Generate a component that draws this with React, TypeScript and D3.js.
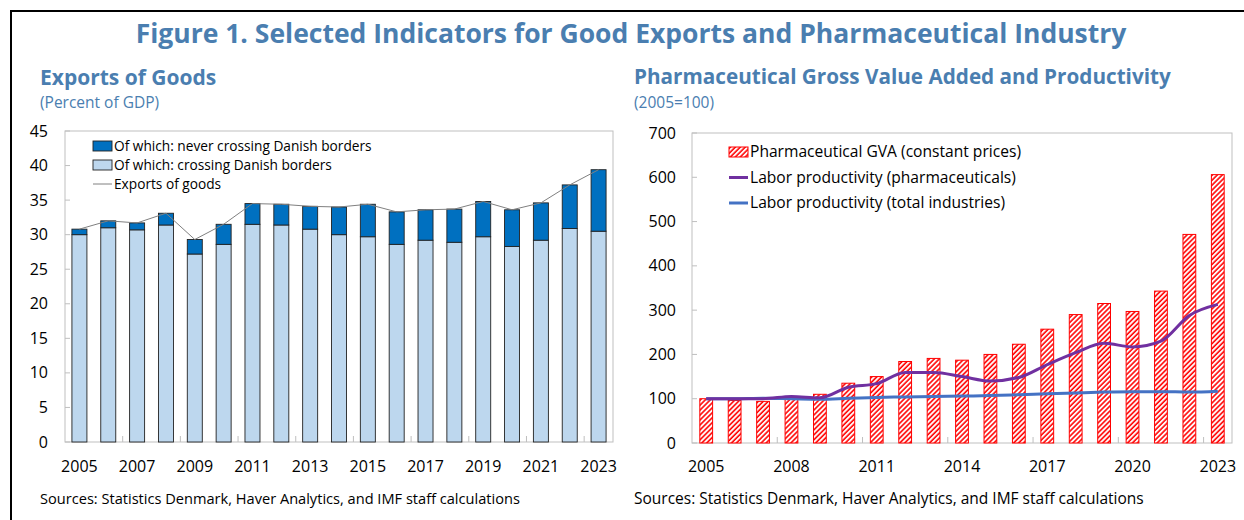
import React, { useEffect, useRef } from 'react';
import * as d3 from 'd3';

// Exports of goods (percent of GDP)
const years = d3.range(2005, 2024).map(String);
const crossing = [30.0, 31.0, 30.7, 31.4, 27.2, 28.6, 31.5, 31.4, 30.8, 30.0, 29.7, 28.6, 29.2, 28.9, 29.7, 28.3, 29.2, 30.9, 30.5];
const neverCrossing = [0.8, 1.0, 1.0, 1.7, 2.1, 2.9, 3.0, 3.0, 3.3, 4.0, 4.7, 4.7, 4.4, 4.8, 5.1, 5.3, 5.4, 6.3, 8.9];
const leftYTicks = [0, 5, 10, 15, 20, 25, 30, 35, 40, 45];
const leftXLabels = ['2005', '2007', '2009', '2011', '2013', '2015', '2017', '2019', '2021', '2023'];

// Pharmaceutical GVA and productivity (2005=100)
const pharmaGVA = [100, 96, 94, 100, 110, 135, 150, 184, 191, 187, 200, 223, 257, 290, 315, 297, 343, 471, 606];
const pharmaProd = [100, 100, 100, 105, 102, 126, 134, 159, 159, 150, 140, 148, 177, 204, 225, 217, 230, 288, 313];
const totalProd = [100, 100, 101, 100, 99, 101, 103, 104, 105, 106, 107, 109, 111, 113, 115, 116, 116, 115, 117];
const rightYTicks = [0, 100, 200, 300, 400, 500, 600, 700];
const rightXLabels = ['2005', '2008', '2011', '2014', '2017', '2020', '2023'];

const FONT = "'Open Sans', 'Noto Sans', sans-serif";
const BLUE_TITLE = '#4a7eb0';

const Chart = () => {
  const svgRef = useRef<SVGSVGElement>(null);

  useEffect(() => {
    const svg = d3.select(svgRef.current);
    svg.selectAll('*').remove();
    svg.attr('font-family', FONT);

    const defs = svg.append('defs');
    const pat = defs.append('pattern')
      .attr('id', 'hatch')
      .attr('patternUnits', 'userSpaceOnUse')
      .attr('width', 3.5)
      .attr('height', 3.5)
      .attr('patternTransform', 'rotate(45)');
    pat.append('rect').attr('width', 3.5).attr('height', 3.5).attr('fill', '#fff');
    pat.append('line').attr('x1', 1).attr('x2', 1).attr('y1', 0).attr('y2', 3.5)
      .attr('stroke', '#ff0000').attr('stroke-width', 1.6);

    // outer frame (left and top edges)
    svg.append('line').attr('x1', 11).attr('x2', 11).attr('y1', 10).attr('y2', 520).attr('stroke', '#000').attr('stroke-width', 2);
    svg.append('line').attr('x1', 10).attr('x2', 1244).attr('y1', 11).attr('y2', 11).attr('stroke', '#000').attr('stroke-width', 2);

    svg.append('text')
      .attr('x', 631).attr('y', 43)
      .attr('text-anchor', 'middle')
      .attr('font-size', 26.5).attr('font-weight', 700)
      .attr('fill', BLUE_TITLE)
      .text('Figure 1. Selected Indicators for Good Exports and Pharmaceutical Industry');

    // ---------- left panel ----------
    svg.append('text').attr('x', 40).attr('y', 85).attr('font-size', 21).attr('font-weight', 700)
      .attr('fill', BLUE_TITLE).text('Exports of Goods');
    svg.append('text').attr('x', 40).attr('y', 108).attr('font-size', 15.5)
      .attr('fill', BLUE_TITLE).text('(Percent of GDP)');

    const L = { left: 65, right: 613, top: 131, bottom: 442 };
    const yL = d3.scaleLinear().domain([0, 45]).range([L.bottom, L.top]);
    const stepL = (L.right - L.left) / years.length;
    const bandL = (i: number) => L.left + (i + 0.5) * stepL;
    const bwL = stepL * 0.52;

    const gL = svg.append('g');
    gL.append('rect').attr('x', L.left).attr('y', L.top).attr('width', L.right - L.left).attr('height', L.bottom - L.top)
      .attr('fill', 'none').attr('stroke', '#bfbfbf').attr('stroke-width', 1);

    gL.selectAll('.ytick').data(leftYTicks).join('line')
      .attr('x1', L.left).attr('x2', L.left + 5)
      .attr('y1', d => yL(d)).attr('y2', d => yL(d))
      .attr('stroke', '#bfbfbf');
    gL.selectAll('.ylab').data(leftYTicks).join('text')
      .attr('x', 48).attr('y', d => yL(d)).attr('dy', '0.35em')
      .attr('text-anchor', 'end').attr('font-size', 16).attr('fill', '#000')
      .text(d => d);

    gL.selectAll('.xtick').data(d3.range(2, years.length, 2)).join('line')
      .attr('x1', d => L.left + d * stepL).attr('x2', d => L.left + d * stepL)
      .attr('y1', L.bottom).attr('y2', L.bottom - 6)
      .attr('stroke', '#bfbfbf');
    gL.selectAll('.xlab').data(leftXLabels).join('text')
      .attr('x', d => bandL(years.indexOf(d))).attr('y', 472)
      .attr('text-anchor', 'middle').attr('font-size', 16).attr('fill', '#000')
      .text(d => d);

    gL.selectAll('.barA').data(crossing).join('rect')
      .attr('x', (d, i) => bandL(i) - bwL / 2).attr('width', bwL)
      .attr('y', d => yL(d)).attr('height', d => yL(0) - yL(d))
      .attr('fill', '#bdd7ee').attr('stroke', '#222').attr('stroke-width', 0.9);
    gL.selectAll('.barB').data(neverCrossing).join('rect')
      .attr('x', (d, i) => bandL(i) - bwL / 2).attr('width', bwL)
      .attr('y', (d, i) => yL(crossing[i] + d)).attr('height', (d, i) => yL(crossing[i]) - yL(crossing[i] + d))
      .attr('fill', '#0070c0').attr('stroke', '#222').attr('stroke-width', 0.9);

    const totals = crossing.map((c, i) => c + neverCrossing[i]);
    gL.append('path')
      .attr('d', d3.line<number>().x((d, i) => bandL(i)).y(d => yL(d))(totals))
      .attr('fill', 'none').attr('stroke', '#808080').attr('stroke-width', 1);

    const legL = [
      { label: 'Of which: never crossing Danish borders', type: 'rect', color: '#0070c0' },
      { label: 'Of which: crossing Danish borders', type: 'rect', color: '#bdd7ee' },
      { label: 'Exports of goods', type: 'line', color: '#808080' },
    ];
    legL.forEach((d, i) => {
      const cy = 146 + i * 19;
      if (d.type === 'rect') {
        gL.append('rect').attr('x', 93).attr('y', cy - 5).attr('width', 19).attr('height', 10)
          .attr('fill', d.color).attr('stroke', '#222').attr('stroke-width', 0.9);
      } else {
        gL.append('line').attr('x1', 93).attr('x2', 112).attr('y1', cy).attr('y2', cy)
          .attr('stroke', d.color).attr('stroke-width', 1);
      }
      gL.append('text').attr('x', 114).attr('y', cy).attr('dy', '0.35em')
        .attr('font-size', 13.7).attr('fill', '#000').text(d.label);
    });

    svg.append('text').attr('x', 40).attr('y', 504).attr('font-size', 14.6).attr('fill', '#000')
      .text('Sources: Statistics Denmark, Haver Analytics, and IMF staff calculations');

    // ---------- right panel ----------
    svg.append('text').attr('x', 634).attr('y', 84).attr('font-size', 20.7).attr('font-weight', 700)
      .attr('fill', BLUE_TITLE).text('Pharmaceutical Gross Value Added and Productivity');
    svg.append('text').attr('x', 634).attr('y', 108).attr('font-size', 15.5)
      .attr('fill', BLUE_TITLE).text('(2005=100)');

    const R = { left: 692, right: 1232, top: 133, bottom: 443 };
    const yR = d3.scaleLinear().domain([0, 700]).range([R.bottom, R.top]);
    const stepR = (R.right - R.left) / years.length;
    const bandR = (i: number) => R.left + (i + 0.5) * stepR;
    const bwR = stepR * 0.45;

    const gR = svg.append('g');
    gR.append('rect').attr('x', R.left).attr('y', R.top).attr('width', R.right - R.left).attr('height', R.bottom - R.top)
      .attr('fill', 'none').attr('stroke', '#bfbfbf').attr('stroke-width', 1);

    gR.selectAll('.ytick').data(rightYTicks).join('line')
      .attr('x1', R.left).attr('x2', R.left + 5)
      .attr('y1', d => yR(d)).attr('y2', d => yR(d))
      .attr('stroke', '#bfbfbf');
    gR.selectAll('.ylab').data(rightYTicks).join('text')
      .attr('x', 676).attr('y', d => yR(d)).attr('dy', '0.35em')
      .attr('text-anchor', 'end').attr('font-size', 16).attr('fill', '#000')
      .text(d => d);

    gR.selectAll('.xtick').data(d3.range(3, years.length, 3)).join('line')
      .attr('x1', d => R.left + d * stepR).attr('x2', d => R.left + d * stepR)
      .attr('y1', R.bottom).attr('y2', R.bottom - 6)
      .attr('stroke', '#bfbfbf');
    gR.selectAll('.xlab').data(rightXLabels).join('text')
      .attr('x', d => bandR(years.indexOf(d))).attr('y', 472)
      .attr('text-anchor', 'middle').attr('font-size', 16).attr('fill', '#000')
      .text(d => d);

    gR.selectAll('.barG').data(pharmaGVA).join('rect')
      .attr('x', (d, i) => bandR(i) - bwR / 2).attr('width', bwR)
      .attr('y', d => yR(d)).attr('height', d => yR(0) - yR(d))
      .attr('fill', 'url(#hatch)').attr('stroke', '#ff0000').attr('stroke-width', 1);

    const lineR = d3.line<number>().x((d, i) => bandR(i)).y(d => yR(d)).curve(d3.curveMonotoneX);
    gR.append('path').attr('d', lineR(totalProd))
      .attr('fill', 'none').attr('stroke', '#4472c4').attr('stroke-width', 3);
    gR.append('path').attr('d', lineR(pharmaProd))
      .attr('fill', 'none').attr('stroke', '#7030a0').attr('stroke-width', 3);

    const legR = [
      { label: 'Pharmaceutical GVA (constant prices)', type: 'rect', color: '#ff0000' },
      { label: 'Labor productivity (pharmaceuticals)', type: 'line', color: '#7030a0' },
      { label: 'Labor productivity (total industries)', type: 'line', color: '#4472c4' },
    ];
    legR.forEach((d, i) => {
      const cy = 152 + i * 25.5;
      if (d.type === 'rect') {
        gR.append('rect').attr('x', 729).attr('y', cy - 5).attr('width', 19).attr('height', 10)
          .attr('fill', 'url(#hatch)').attr('stroke', d.color).attr('stroke-width', 1);
      } else {
        gR.append('line').attr('x1', 729).attr('x2', 748).attr('y1', cy).attr('y2', cy)
          .attr('stroke', d.color).attr('stroke-width', 3);
      }
      gR.append('text').attr('x', 750).attr('y', cy).attr('dy', '0.35em')
        .attr('font-size', 15.6).attr('fill', '#000').text(d.label);
    });

    svg.append('text').attr('x', 634).attr('y', 504).attr('font-size', 15.5).attr('fill', '#000')
      .text('Sources: Statistics Denmark, Haver Analytics, and IMF staff calculations');
  }, []);

  return <svg ref={svgRef} width={1244} height={520} style={{ display: 'block' }}></svg>;
};

export default function App() {
  return (
    <div style={{ position: 'fixed', left: 0, top: 0, width: 1244, height: 520, background: '#fff' }}>
      <Chart />
    </div>
  );
}
